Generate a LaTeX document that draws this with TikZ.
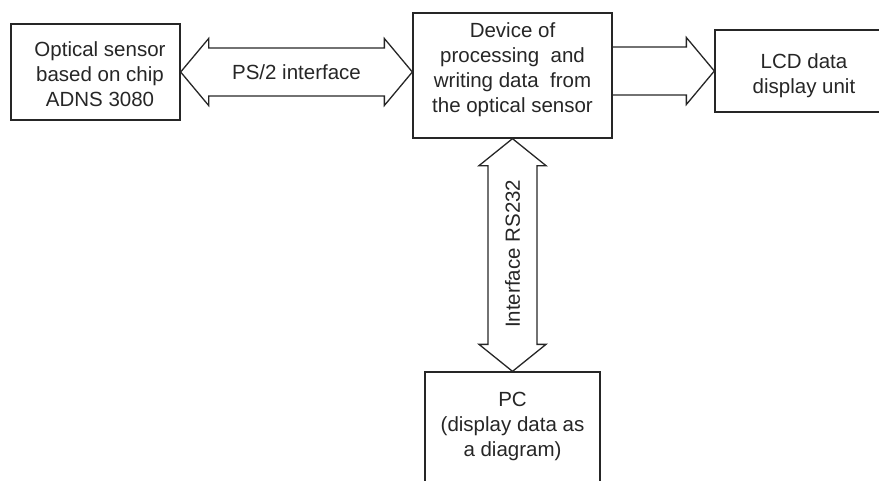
\documentclass[tikz,border=0pt]{standalone}
\usepackage{fontspec}
\setmainfont{Liberation Sans}
\usetikzlibrary{calc}
\definecolor{ink}{HTML}{262626}
\begin{document}
\begin{tikzpicture}[x=1pt,y=-1pt,
  boxshape/.style={draw=ink,line width=1.3pt,rectangle,inner sep=0pt},
  txt/.style={text=ink,align=center,inner sep=0pt,font=\fontsize{20.5}{25}\selectfont},
  arr/.style={draw=ink,line width=1.3pt,line join=miter}]
\useasboundingbox (0,0) rectangle (879,480);
\clip (0,0) rectangle (879,480);
% boxes
\node[boxshape,minimum width=169pt,minimum height=96pt] (b1) at (95.5,72) {};
\node[boxshape,minimum width=199pt,minimum height=125pt] (b2) at (512.5,75.5) {};
\node[boxshape,minimum width=175pt,minimum height=82pt] (b3) at (802.5,71) {};
\node[boxshape,minimum width=175pt,minimum height=110pt] (b4) at (512.5,427) {};
% texts
\node[txt] (t1) at (100,74) {Optical sensor\\based on chip\\ADNS 3080};
\node[txt] (t2) at (512.5,70) {Device of\\processing\ \ and\\writing data\ \ from\\the optical sensor};
\node[txt] (t3) at (804,75.5) {LCD data\\display unit};
\node[txt] (t4) at (512.5,426.5) {PC\\(display data as\\a diagram)};
% PS/2 double arrow
\coordinate (pA) at (b1.east);
\coordinate (pB) at (b2.west |- b1.east);
\draw[arr] (pA) -- ($(pA)+(28,-33.5)$) -- ($(pA)+(28,-24)$) -- ($(pB)+(-28,-24)$)
  -- ($(pB)+(-28,-33.5)$) -- (pB) -- ($(pB)+(-28,33.5)$) -- ($(pB)+(-28,24)$)
  -- ($(pA)+(28,24)$) -- ($(pA)+(28,33.5)$) -- cycle;
\node[txt] (lps) at ($(pA)!0.5!(pB)$) {PS/2 interface};
% single arrow to LCD
\coordinate (sA) at (b2.east |- b3.west);
\coordinate (sB) at (b3.west);
\draw[arr] ($(sA)+(0,-24)$) -- ($(sB)+(-28,-24)$) -- ($(sB)+(-28,-33.5)$) -- (sB)
  -- ($(sB)+(-28,33.5)$) -- ($(sB)+(-28,24)$) -- ($(sA)+(0,24)$);
% RS232 vertical double arrow
\coordinate (vA) at (b2.south);
\coordinate (vB) at (b4.north);
\draw[arr] (vA) -- ($(vA)+(33.5,27)$) -- ($(vA)+(24.5,27)$) -- ($(vB)+(24.5,-27)$)
  -- ($(vB)+(33.5,-27)$) -- (vB) -- ($(vB)+(-33.5,-27)$) -- ($(vB)+(-24.5,-27)$)
  -- ($(vA)+(-24.5,27)$) -- ($(vA)+(-33.5,27)$) -- cycle;
\node[txt,rotate=90] (lrs) at ($(vA)!0.495!(vB)$) {Interface RS232};
\end{tikzpicture}
\end{document}
